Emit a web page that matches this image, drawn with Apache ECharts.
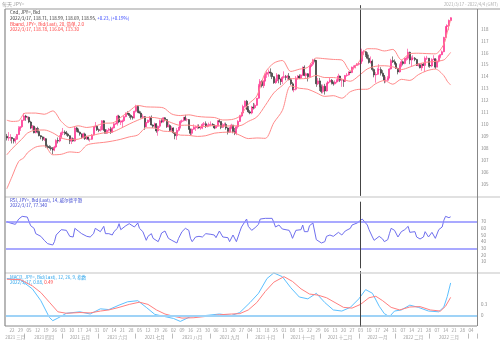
<!DOCTYPE html>
<html><head><meta charset="utf-8">
<script src="https://cdn.jsdelivr.net/npm/echarts@6/dist/echarts.min.js"></script>
<style>html,body{margin:0;padding:0;background:#fff}#c{width:500px;height:340px}</style>
</head><body><div id="c"></div>
<script>
// ---- categories: trading days (weekdays) from 2021-03-17 ----
const startDate = [2021, 2, 17];
const categoryCount = 277;
const categories = [];
(function () {
  const d = new Date(Date.UTC(startDate[0], startDate[1], startDate[2]));
  while (categories.length < categoryCount) {
    const w = d.getUTCDay();
    if (w !== 0 && w !== 6) categories.push(d.toISOString().slice(0, 10));
    d.setUTCDate(d.getUTCDate() + 1);
  }
})();
const monthNames = ['一月','二月','三月','四月','五月','六月','七月','八月','九月','十月','十一月','十二月'];

// ---- daily OHLC (JPY= Bid) ----
const opens = [
109.00,108.86,108.88,
108.90,108.80,108.60,108.75,109.15, 109.65,109.80,110.35,110.70,110.60,
110.60,110.20,109.70,109.85,109.30, 109.65,109.40,109.05,108.95,108.75,
108.80,108.15,108.10,108.05,107.95, 107.85,108.10,108.65,108.60,108.90,
109.30,109.35,109.30,109.20,109.05, 108.60,108.80,108.60,109.70,109.50,
109.35,109.20,108.90,109.20,108.80, 108.95,108.75,108.75,109.10,109.80,
109.85,109.55,109.50,109.55,110.30, 109.55,109.25,109.50,109.60,109.35,
109.70,110.05,110.05,110.70,110.20, 110.20,110.30,110.65,110.95,110.90,
110.75,110.60,110.55,111.10,111.50, 111.05,110.95,110.60,110.65,109.80,
110.15,110.35,110.60,109.95,109.85, 110.05,109.45,109.85,110.30,110.20,
110.55,110.40,109.80,109.90,109.50, 109.70,109.30,109.05,109.50,109.75,
110.25,110.30,110.60,110.40,110.40, 109.60,109.25,109.60,109.75,109.75,
109.80,109.70,109.70,110.00,110.05, 109.85,109.90,110.00,110.00,109.95,
109.70,109.85,110.30,110.25,109.75, 109.90,110.00,109.70,109.35,109.70,
109.95,109.40,109.25,109.80,110.25, 110.70,110.95,111.50,111.95,111.30,
111.05,110.95,111.45,111.40,111.60, 112.20,113.25,113.60,113.25,113.65,
114.20,114.35,114.40,114.30,114.00, 113.50,113.65,114.15,113.80,113.60,
113.95,114.00,113.95,114.05,113.75, 113.40,112.90,112.95,113.90,114.05,
113.90,114.15,114.80,114.10,114.25, 114.00,114.85,115.05,115.40,115.35,
113.40,113.65,113.15,112.75,113.20, 112.80,113.45,113.55,113.70,113.50,
113.40,113.55,113.70,114.05,113.70, 113.70,113.60,114.10,114.15,114.40,
114.35,114.80,114.80,114.95,115.05, 115.10,115.30,116.10,116.10,115.85,
115.55,115.20,115.30,114.60,114.15, 114.20,114.60,114.60,114.30,114.10,
113.70,113.70,113.90,114.65,115.35, 115.25,115.10,114.70,114.40,114.95,
115.25,115.10,115.50,115.55,116.05, 115.40,115.55,115.55,115.45,114.95,
115.00,114.75,115.05,114.95,115.55, 115.55,114.95,114.90,115.45,115.50,
114.80,115.30,115.70,115.85,116.10, 117.30,118.20,118.30,118.71
];
const closes = [
108.86,108.88,108.90,
108.80,108.60,108.75,109.15,109.65, 109.80,110.35,110.70,110.60,110.60,
110.20,109.70,109.85,109.30,109.65, 109.40,109.05,108.95,108.75,108.80,
108.15,108.10,108.05,107.95,107.85, 108.10,108.65,108.60,108.90,109.30,
109.35,109.30,109.20,109.05,108.60, 108.80,108.60,109.70,109.50,109.35,
109.20,108.90,109.20,108.80,108.95, 108.75,108.75,109.10,109.80,109.85,
109.55,109.50,109.55,110.30,109.55, 109.25,109.50,109.60,109.35,109.70,
110.05,110.05,110.70,110.20,110.20, 110.30,110.65,110.95,110.90,110.75,
110.60,110.55,111.10,111.50,111.05, 110.95,110.60,110.65,109.80,110.15,
110.35,110.60,109.95,109.85,110.05, 109.45,109.85,110.30,110.20,110.55,
110.40,109.80,109.90,109.50,109.70, 109.30,109.05,109.50,109.75,110.25,
110.30,110.60,110.40,110.40,109.60, 109.25,109.60,109.75,109.75,109.80,
109.70,109.70,110.00,110.05,109.85, 109.90,110.00,110.00,109.95,109.70,
109.85,110.30,110.25,109.75,109.90, 110.00,109.70,109.35,109.70,109.95,
109.40,109.25,109.80,110.25,110.70, 110.95,111.50,111.95,111.30,111.05,
110.95,111.45,111.40,111.60,112.20, 113.25,113.60,113.25,113.65,114.20,
114.35,114.40,114.30,114.00,113.50, 113.65,114.15,113.80,113.60,113.95,
114.00,113.95,114.05,113.75,113.40, 112.90,112.95,113.90,114.05,113.90,
114.15,114.80,114.10,114.25,114.00, 114.85,115.05,115.40,115.35,113.40,
113.65,113.15,112.75,113.20,112.80, 113.45,113.55,113.70,113.50,113.40,
113.55,113.70,114.05,113.70,113.70, 113.60,114.10,114.15,114.40,114.35,
114.80,114.80,114.95,115.05,115.10, 115.30,116.10,116.10,115.85,115.55,
115.20,115.30,114.60,114.15,114.20, 114.60,114.60,114.30,114.10,113.70,
113.70,113.90,114.65,115.35,115.25, 115.10,114.70,114.40,114.95,115.25,
115.10,115.50,115.55,116.05,115.40, 115.55,115.55,115.45,114.95,115.00,
114.75,115.05,114.95,115.55,115.55, 114.95,114.90,115.45,115.50,114.80,
115.30,115.70,115.85,116.10,117.30, 118.20,118.30,118.72,118.95
];
const highs = [
109.20,109.35,109.18,
108.95,108.85,109.00,109.20,109.85, 109.85,110.40,110.95,110.80,110.70,
110.65,110.30,109.95,109.90,109.75, 109.80,109.70,109.10,109.00,108.95,
108.85,108.30,108.25,108.20,108.10, 108.20,108.75,108.90,109.10,109.40,
109.70,109.50,109.45,109.30,109.10, 108.90,108.90,109.80,109.80,109.65,
109.40,109.25,109.30,109.30,109.05, 108.95,108.80,109.20,109.85,110.20,
109.90,109.65,109.85,110.35,110.35, 109.60,109.60,109.70,109.80,109.80,
110.10,110.15,110.80,110.80,110.35, 110.40,110.75,111.00,111.10,110.95,
110.85,110.70,111.15,111.65,111.60, 111.15,111.10,110.85,110.70,110.20,
110.40,110.70,110.75,110.00,110.15, 110.10,109.90,110.40,110.50,110.60,
110.60,110.45,110.25,110.00,109.85, 109.75,109.35,109.70,109.80,110.35,
110.40,110.60,110.80,110.55,110.45, 109.65,109.65,110.00,109.90,110.00,
110.00,109.80,110.10,110.20,110.25, 110.00,110.15,110.25,110.10,110.00,
109.90,110.35,110.45,110.25,110.10, 110.15,110.15,109.75,109.80,110.05,
109.95,109.70,109.85,110.35,110.80, 111.05,111.65,112.00,112.05,111.55,
111.20,111.55,111.80,111.75,112.20, 113.40,113.80,113.70,113.70,114.30,
114.45,114.60,114.70,114.40,114.05, 113.85,114.30,114.20,113.85,114.05,
114.45,114.15,114.15,114.30,113.90, 113.55,113.05,114.05,114.15,114.20,
114.20,114.85,114.95,114.35,114.30, 114.90,115.15,115.50,115.50,115.40,
113.90,113.90,113.35,113.35,113.40, 113.50,113.65,113.95,113.80,113.60,
113.70,113.80,114.25,114.10,113.85, 113.80,114.15,114.30,114.45,114.45,
114.85,114.95,115.00,115.15,115.20, 115.40,116.35,116.25,116.15,116.05,
115.85,115.70,115.45,114.70,114.40, 114.75,115.05,114.80,114.55,114.15,
114.00,114.05,114.75,115.50,115.70, 115.45,115.20,114.75,115.10,115.40,
115.35,115.60,115.70,116.35,116.10, 115.70,115.80,115.65,115.50,115.15,
115.10,115.15,115.15,115.70,115.75, 115.55,115.15,115.55,115.80,115.55,
115.50,115.80,115.90,116.20,117.35, 118.25,118.40,118.80,118.99
];
const lows = [
108.65,108.62,108.60,
108.40,108.40,108.40,108.70,109.10, 109.45,109.70,110.30,110.30,110.40,
110.10,109.60,109.50,109.25,109.25, 109.25,109.00,108.75,108.60,108.60,
108.05,107.95,107.95,107.80,107.50, 107.75,108.00,108.40,108.50,108.80,
109.10,109.10,109.05,108.95,108.35, 108.35,108.55,108.55,109.35,109.30,
109.05,108.80,108.80,108.70,108.70, 108.65,108.55,108.70,109.05,109.75,
109.45,109.35,109.40,109.50,109.45, 109.25,109.20,109.40,109.20,109.30,
109.65,109.95,109.90,110.10,109.95, 109.75,110.20,110.60,110.80,110.55,
110.40,110.40,110.50,111.00,110.95, 110.90,110.50,110.50,109.55,109.80,
110.10,110.20,109.90,109.70,109.70, 109.30,109.05,109.70,110.10,110.15,
110.25,109.70,109.75,109.40,109.35, 109.20,108.75,108.70,109.40,109.65,
110.10,110.25,110.30,110.25,109.55, 109.10,109.10,109.55,109.45,109.60,
109.65,109.55,109.60,109.85,109.70, 109.75,109.80,109.85,109.85,109.60,
109.65,109.80,110.15,109.60,109.70, 109.85,109.55,109.15,109.30,109.60,
109.25,109.10,109.10,109.65,110.20, 110.60,110.90,111.40,111.20,110.95,
110.85,110.85,111.25,111.30,111.55, 112.15,113.20,113.10,113.05,113.60,
113.90,114.00,114.00,113.80,113.40, 113.40,113.60,113.45,113.30,113.40,
113.85,113.70,113.75,113.70,113.30, 112.85,112.70,112.85,113.75,113.80,
113.80,114.05,114.05,113.90,113.60, 113.95,114.75,114.90,115.20,113.15,
113.30,112.80,112.60,112.60,112.50, 112.75,113.35,113.50,113.35,113.25,
113.35,113.45,113.60,113.55,113.15, 113.15,113.55,114.00,114.10,114.30,
114.30,114.60,114.70,114.90,114.95, 115.05,115.25,115.80,115.65,115.45,
115.10,115.10,114.45,113.95,113.50, 114.15,114.50,114.10,114.00,113.45,
113.50,113.65,113.85,114.60,115.15, 115.00,114.65,114.20,114.35,114.80,
114.95,115.05,115.35,115.40,115.05, 114.90,115.40,115.30,114.90,114.85,
114.70,114.50,114.90,114.40,115.40, 114.80,114.75,114.80,115.40,114.65,
114.80,115.20,115.55,115.80,116.05, 117.25,117.70,117.90,118.69
];

// ---- Bollinger band (20, 2.0) read points: [dayIndex, value] ----
const bbUpper = [[0,110.35],[3,110.25],[7,110.30],[10,110.90],[12,110.95],[17,110.95],[22,110.85],[27,111.13],[32,110.25],[37,109.73],[42,109.88],[47,109.74],[52,109.86],[57,110.09],[62,110.12],[67,110.59],[72,111.11],[77,111.59],[82,111.47],[87,111.45],[92,111.39],[97,110.87],[102,110.74],[107,110.80],[112,110.67],[117,110.61],[122,110.58],[127,110.37],[132,110.40],[137,110.69],[142,111.69],[147,112.38],[152,114.35],[157,115.14],[162,115.36],[167,114.44],[172,114.63],[177,114.79],[182,115.57],[187,115.51],[192,115.45],[197,115.40],[202,114.50],[207,115.22],[212,116.35],[217,116.34],[222,116.16],[227,116.29],[232,115.42],[237,115.93],[242,115.97],[247,115.94],[252,115.92],[257,116.73],[259,117.74],[260,118.26],[261,118.78]];
const bbMiddle = [[0,107.45],[3,107.95],[7,108.51],[10,108.95],[12,109.26],[17,109.52],[22,109.53],[27,109.29],[32,108.87],[37,108.71],[42,108.76],[47,109.00],[52,109.14],[57,109.29],[62,109.36],[67,109.67],[72,110.03],[77,110.35],[82,110.59],[87,110.57],[92,110.41],[97,110.13],[102,109.92],[107,109.94],[112,109.83],[117,109.83],[122,109.92],[127,109.85],[132,109.88],[137,109.89],[142,110.25],[147,110.62],[152,111.59],[157,112.64],[162,113.26],[167,113.84],[172,113.83],[177,113.87],[182,114.11],[187,113.93],[192,113.93],[197,113.80],[202,113.62],[207,114.08],[212,114.65],[217,114.88],[222,114.92],[227,114.83],[232,114.60],[237,114.81],[242,115.07],[247,115.22],[252,115.28],[257,115.41],[259,115.68],[260,115.86],[261,116.04]];
const bbLower = [[0,104.60],[3,105.60],[7,106.90],[10,107.20],[12,107.60],[17,108.10],[22,108.20],[27,107.45],[32,107.49],[37,107.69],[42,107.64],[47,108.26],[52,108.42],[57,108.49],[62,108.60],[67,108.75],[72,108.95],[77,109.11],[82,109.71],[87,109.69],[92,109.43],[97,109.39],[102,109.10],[107,109.08],[112,108.99],[117,109.05],[122,109.26],[127,109.33],[132,109.36],[137,109.09],[142,108.81],[147,108.86],[152,108.83],[157,110.14],[162,111.16],[167,113.24],[172,113.03],[177,112.95],[182,112.65],[187,112.35],[192,112.41],[197,112.20],[202,112.74],[207,112.94],[212,112.95],[217,113.42],[222,113.68],[227,113.37],[232,113.78],[237,113.69],[242,114.17],[247,114.50],[252,114.64],[257,114.09],[259,113.62],[260,113.46],[261,113.30]];

// ---- RSI (14) read points ----
const rsiValues = [[0,70],[2,68],[5,66],[7,74],[9,78],[10,80],[12,77],[14,64],[16,60],[17,52],[20,48],[22,42],[24,37],[27,35],[28,40],[29,50],[32,58],[35,57],[37,48],[39,47],[40,60],[42,56],[44,52],[47,48],[49,47],[51,52],[52,60],[55,55],[57,63],[58,52],[60,52],[62,50],[63,55],[65,60],[66,67],[67,58],[70,64],[72,67],[75,62],[77,68],[78,60],[80,55],[82,42],[83,48],[85,52],[86,45],[89,40],[90,46],[91,53],[93,56],[95,45],[97,42],[100,38],[101,45],[103,55],[105,60],[107,57],[108,45],[109,40],[111,47],[113,48],[115,47],[117,52],[120,51],[122,50],[123,46],[125,56],[127,47],[130,46],[131,40],[133,50],[135,40],[137,55],[138,62],[140,70],[141,74],[142,63],[144,57],[146,61],[148,66],[149,74],[150,77],[152,75],[153,78],[156,75],[157,69],[158,62],[160,65],[162,59],[163,62],[166,57],[167,52],[168,45],[169,46],[170,57],[173,58],[174,65],[175,55],[177,55],[178,64],[180,68],[181,67],[182,43],[183,46],[185,38],[187,40],[188,48],[190,50],[192,48],[195,54],[197,50],[199,56],[202,60],[203,65],[206,68],[209,74],[210,73],[212,65],[213,58],[215,47],[216,42],[217,43],[219,48],[221,44],[222,40],[224,43],[225,52],[226,60],[228,57],[230,47],[232,55],[234,58],[236,63],[237,54],[240,55],[241,47],[243,44],[245,47],[246,55],[248,47],[250,54],[251,55],[252,45],[254,58],[256,62],[257,72],[258,78],[260,76],[261,77.34]];

// ---- MACD (12, 26, 9) read points ----
const macdValues = [[0,1.00],[8,0.96],[15,0.72],[20,0.40],[25,-0.05],[27,-0.14],[30,-0.07],[35,0.06],[43,0.10],[49,0.04],[55,0.18],[60,0.16],[66,0.28],[71,0.37],[77,0.40],[82,0.22],[87,0.03],[92,-0.02],[98,-0.08],[102,-0.16],[108,-0.03],[115,-0.01],[125,0.04],[132,0.00],[137,0.08],[143,0.35],[148,0.60],[153,1.00],[157,1.15],[162,1.05],[167,0.75],[172,0.50],[177,0.45],[182,0.60],[187,0.35],[192,0.15],[197,0.12],[202,0.22],[207,0.45],[211,0.70],[215,0.60],[219,0.25],[222,0.05],[225,-0.03],[228,0.12],[232,0.15],[237,0.28],[242,0.22],[248,0.12],[254,0.10],[257,0.23],[259,0.51],[261,0.88]];
const signalValues = [[0,0.98],[8,0.97],[15,0.80],[20,0.62],[25,0.36],[30,0.10],[35,0.06],[43,0.08],[49,0.07],[55,0.12],[60,0.15],[66,0.22],[72,0.30],[78,0.36],[83,0.30],[88,0.15],[93,0.04],[98,-0.02],[103,-0.07],[110,-0.06],[118,-0.02],[125,0.02],[132,0.04],[137,0.05],[142,0.15],[147,0.35],[152,0.65],[157,0.90],[163,1.05],[168,0.92],[173,0.72],[178,0.58],[183,0.55],[188,0.48],[193,0.35],[198,0.22],[203,0.20],[208,0.30],[213,0.48],[217,0.52],[221,0.40],[226,0.22],[231,0.15],[237,0.23],[243,0.24],[249,0.15],[255,0.12],[258,0.25],[261,0.49]];

const cursorIndex = 208;
const lastValues = {close: 118.95, bbU: 118.78, bbM: 116.04, bbL: 113.30, rsi: 77.34, macd: 0.88, signal: 0.49};

// ---- derived helpers ----
const candleData = closes.map((c, i) => [opens[i], c, lows[i], highs[i]]);
const dayOf = s => new Date(s + 'T00:00:00Z');
const mondaySet = new Set();
const monthStart = new Set();
const monthMid = {};
(function () {
  let curM = null, first = 0;
  const spans = [];
  categories.forEach((s, i) => {
    const d = dayOf(s);
    if (d.getUTCDay() === 1) mondaySet.add(i);
    const m = s.slice(0, 7);
    if (m !== curM) { if (curM !== null) { spans.push([curM, first, i - 1]); monthStart.add(i); } curM = m; first = i; }
  });
  spans.forEach(([m, a, b]) => { monthMid[Math.round((a + b) / 2)] = m; });
})();

const FONT = "'Noto Sans CJK SC', 'Noto Sans', sans-serif";
const G = [
  {left: 6, right: 23, top: 5.2, height: 190.7},
  {left: 6, right: 23, top: 201.7, height: 66.6},
  {left: 6, right: 23, top: 271.1, height: 55.5}
];
const badge = (txt, bg, off) => ({show: true, position: 'end', distance: 1, formatter: txt, color: '#fff', backgroundColor: bg,
  fontSize: 4.5, lineHeight: 4.6, padding: [0.3, 2.2], fontFamily: FONT, fontWeight: 'bold', offset: [0, off || 0]});
const hidden = {opacity: 0};
const cursorLine = {xAxis: categories[cursorIndex], lineStyle: {color: '#444', width: 1, type: 'solid'}, label: {show: false}};

const chart = echarts.init(document.getElementById('c'), null, {renderer: 'canvas'});
chart.setOption({
  animation: false,
  backgroundColor: '#fff',
  textStyle: {fontFamily: FONT},
  grid: G.map(g => Object.assign({containLabel: false, outerBoundsMode: 'none'}, g)),
  xAxis: [
    {type: 'category', gridIndex: 0, data: categories, show: false, boundaryGap: true},
    {type: 'category', gridIndex: 1, data: categories, show: false, boundaryGap: true},
    {type: 'category', gridIndex: 2, data: categories, boundaryGap: true,
      axisLine: {show: false}, axisTick: {show: false}, splitLine: {show: false},
      axisLabel: {fontSize: 4.5, color: '#999', margin: 1.5, fontFamily: FONT,
        interval: (i) => mondaySet.has(i), formatter: (v) => v.slice(8, 10)}},
    {type: 'category', gridIndex: 2, data: categories, boundaryGap: true, position: 'bottom', offset: 7,
      axisLine: {show: false},
      axisTick: {show: true, length: 5, interval: (i) => monthStart.has(i), lineStyle: {color: '#aaa', width: 0.8}},
      axisLabel: {fontSize: 4.5, color: '#999', margin: 1.5, fontFamily: FONT,
        interval: (i) => monthMid[i] !== undefined,
        formatter: (v, i) => { const m = monthMid[i]; return m ? m.slice(0, 4) + ' ' + monthNames[+m.slice(5, 7) - 1] : ''; }}}
  ],
  yAxis: [
    {type: 'value', gridIndex: 0, position: 'right', min: 104, max: 120, interval: 1,
      splitLine: {show: false}, axisLine: {show: false}, axisTick: {show: false},
      axisLabel: {fontSize: 4.5, color: '#888', margin: 4, fontFamily: FONT, formatter: v => (v >= 105 && v <= 118) ? String(v) : ''}},
    {type: 'value', gridIndex: 1, position: 'right', min: 0, max: 100, interval: 10,
      splitLine: {show: false}, axisLine: {show: false}, axisTick: {show: false},
      axisLabel: {fontSize: 4.5, color: '#888', margin: 4, fontFamily: FONT, formatter: v => (v >= 10 && v <= 70) ? String(v) : ''}},
    {type: 'value', gridIndex: 2, position: 'right', min: -0.3, max: 1.2, interval: 0.3,
      splitLine: {show: false}, axisLine: {show: false}, axisTick: {show: false},
      axisLabel: {fontSize: 4.5, color: '#888', margin: 4, fontFamily: FONT,
        formatter: v => Math.abs(v) < 1e-6 ? '0' : (Math.abs(v - 0.3) < 1e-6 ? '0.3' : '')}}
  ],
  series: [
    {type: 'candlestick', xAxisIndex: 0, yAxisIndex: 0, data: candleData, barWidth: 1.5,
      itemStyle: {color: '#ff2a8c', color0: '#2b2b2b', borderColor: '#ff2a8c', borderColor0: '#2b2b2b', borderWidth: 0.6},
      markLine: {symbol: 'none', silent: true, animation: false, data: [
        cursorLine,
        {yAxis: lastValues.close, lineStyle: hidden, label: badge('118.95', '#111', -2)}
      ]}},
    {type: 'line', xAxisIndex: 0, yAxisIndex: 0, data: bbUpper, symbol: 'none', smooth: 0.3,
      lineStyle: {color: '#ff8a8a', width: 1},
      markLine: {symbol: 'none', silent: true, data: [{yAxis: lastValues.bbU, lineStyle: hidden, label: badge('118.78', '#ff2020', 2.3)}]}},
    {type: 'line', xAxisIndex: 0, yAxisIndex: 0, data: bbMiddle, symbol: 'none', smooth: 0.3,
      lineStyle: {color: '#ff8a8a', width: 1},
      markLine: {symbol: 'none', silent: true, data: [{yAxis: lastValues.bbM, lineStyle: hidden, label: badge('116.04', '#ff2020', -1)}]}},
    {type: 'line', xAxisIndex: 0, yAxisIndex: 0, data: bbLower, symbol: 'none', smooth: 0.3,
      lineStyle: {color: '#ff8a8a', width: 1},
      markLine: {symbol: 'none', silent: true, data: [{yAxis: lastValues.bbL, lineStyle: hidden, label: badge('113.30', '#ff2020', -0.5)}]}},
    {type: 'line', xAxisIndex: 1, yAxisIndex: 1, data: rsiValues, symbol: 'none',
      lineStyle: {color: '#6f6fee', width: 1},
      markLine: {symbol: 'none', silent: true, data: [
        {yAxis: 70, lineStyle: {color: '#8c8cff', width: 1.5, type: 'solid'}, label: {show: false}},
        {yAxis: 30, lineStyle: {color: '#8c8cff', width: 1.5, type: 'solid'}, label: {show: false}},
        cursorLine,
        {yAxis: lastValues.rsi, lineStyle: hidden, label: badge('77.340', '#1414a0', 0)}
      ]}},
    {type: 'line', xAxisIndex: 2, yAxisIndex: 2, data: macdValues, symbol: 'none',
      lineStyle: {color: '#5cc0ff', width: 1},
      markLine: {symbol: 'none', silent: true, data: [
        {yAxis: 0, lineStyle: {color: '#9fd3f7', width: 2, type: 'solid'}, label: {show: false}},
        cursorLine,
        {yAxis: lastValues.macd, lineStyle: hidden, label: badge('0.88', '#33a8ff', -1)}
      ]}},
    {type: 'line', xAxisIndex: 2, yAxisIndex: 2, data: signalValues, symbol: 'none',
      lineStyle: {color: '#ff7f7f', width: 1},
      markLine: {symbol: 'none', silent: true, data: [
        {yAxis: lastValues.signal, lineStyle: hidden, label: badge('0.49', '#ff3030', 0)}
      ]}}
  ],
  graphic: [
    {type: 'line', z: 100, shape: {x1: 5, y1: 9, x2: 500, y2: 9}, style: {stroke: '#bbb', lineWidth: 1.5}},
    {type: 'line', z: 100, shape: {x1: 5, y1: 197, x2: 500, y2: 197}, style: {stroke: '#c4c4c4', lineWidth: 1.2}},
    {type: 'line', z: 100, shape: {x1: 5, y1: 273, x2: 500, y2: 273}, style: {stroke: '#c4c4c4', lineWidth: 1.2}},
    {type: 'line', z: 100, shape: {x1: 5, y1: 326, x2: 477, y2: 326}, style: {stroke: '#888', lineWidth: 1}},
    {type: 'line', z: 100, shape: {x1: 5, y1: 9, x2: 5, y2: 326}, style: {stroke: '#888', lineWidth: 1.2}},
    {type: 'line', z: 100, shape: {x1: 477.5, y1: 9, x2: 477.5, y2: 326}, style: {stroke: '#888', lineWidth: 1}},
    {type: 'text', x: 2, y: 4, style: {text: '每天 JPY=', fill: '#a0a0a0', fontSize: 5, fontFamily: FONT, verticalAlign: 'middle'}},
    {type: 'text', x: 498, y: 4, style: {text: '2021/3/17 - 2022/4/4 (GMT)', fill: '#aaa', fontSize: 4.3, fontFamily: FONT, align: 'right', verticalAlign: 'middle'}},
    {type: 'text', x: 10, y: 12.7, style: {text: 'Cnd, JPY=, Bid', fill: '#333', fontSize: 4.5, fontFamily: FONT, verticalAlign: 'middle'}},
    {type: 'text', x: 10, y: 18.3, style: {text: '{a|2022/3/17, 118.71, 118.99, 118.69, 118.95, }{b|+0.23, (+0.19%)}', fontSize: 4.5, fontFamily: FONT, verticalAlign: 'middle',
      rich: {a: {fill: '#333', fontSize: 4.5, fontFamily: FONT}, b: {fill: '#3344ff', fontSize: 4.5, fontFamily: FONT}}}},
    {type: 'text', x: 10, y: 24, style: {text: 'Bband, JPY=, Bid(Last), 20, 简单, 2.0', fill: '#ff3b3b', fontSize: 4.5, fontFamily: FONT, verticalAlign: 'middle'}},
    {type: 'text', x: 10, y: 29.5, style: {text: '2022/3/17, 118.78, 116.04, 113.30', fill: '#ff3b3b', fontSize: 4.5, fontFamily: FONT, verticalAlign: 'middle'}},
    {type: 'text', x: 10, y: 200, style: {text: 'RSI, JPY=, Bid(Last), 14, 威尔德平滑', fill: '#3a44d0', fontSize: 4.5, fontFamily: FONT, verticalAlign: 'middle'}},
    {type: 'text', x: 10, y: 205.3, style: {text: '2022/3/17, 77.340', fill: '#3a44d0', fontSize: 4.5, fontFamily: FONT, verticalAlign: 'middle'}},
    {type: 'text', x: 10, y: 276.8, style: {text: 'MACD, JPY=, Bid(Last), 12, 26, 9, 指数', fill: '#2aa4ec', fontSize: 4.5, fontFamily: FONT, verticalAlign: 'middle'}},
    {type: 'text', x: 10, y: 282.5, style: {text: '{a|2022/3/17, 0.88, }{b|0.49}', fontSize: 4.5, fontFamily: FONT, verticalAlign: 'middle',
      rich: {a: {fill: '#2aa4ec', fontSize: 4.5, fontFamily: FONT}, b: {fill: '#ff3b3b', fontSize: 4.5, fontFamily: FONT}}}}
  ]
});
</script></body></html>
